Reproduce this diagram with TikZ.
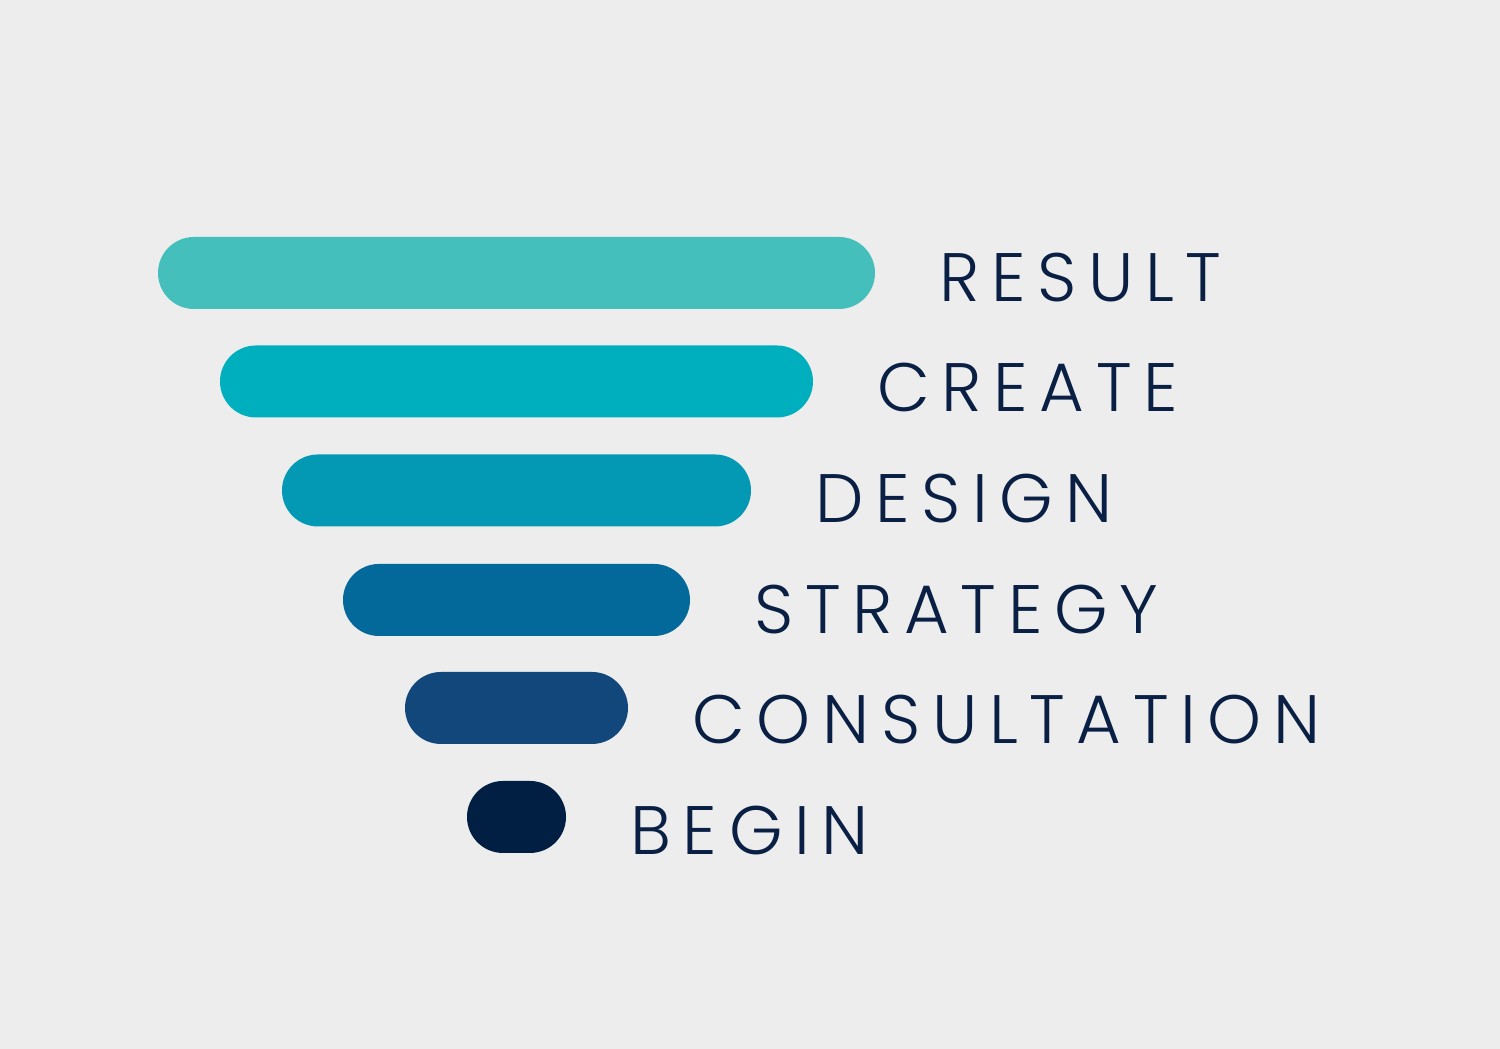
\documentclass[tikz,border=0pt]{standalone}
\usepackage{fontspec}
\setmainfont{Lato}
\newfontfamily\stepfont[LetterSpace=17]{Poppins Light}
\usetikzlibrary{positioning}
\definecolor{bgGray}{HTML}{ECEDEC}
\definecolor{inkNavy}{HTML}{0A1F44}
\definecolor{cResult}{HTML}{44BFBB}
\definecolor{cCreate}{HTML}{00AFBD}
\definecolor{cDesign}{HTML}{0398B3}
\definecolor{cStrategy}{HTML}{03689A}
\definecolor{cConsult}{HTML}{11477B}
\definecolor{cBegin}{HTML}{011E43}
\tikzset{
  bar/.style={rectangle, rounded corners=0.36cm, minimum height=0.72cm, inner sep=0pt},
  steplabel/.style={text=inkNavy, font=\stepfont\fontsize{19.5}{22}\selectfont, inner sep=0pt}
}
\begin{document}
\begin{tikzpicture}
    % Background
    \fill[bgGray] (0,0) rectangle (15,10.49);
    \useasboundingbox (0,0) rectangle (15,10.49);

    % Funnel bars, widest on top
    \node[bar, fill=cResult, minimum width=7.17cm] (result) at (5.165,7.76) {};
    \node[bar, fill=cCreate, minimum width=5.93cm] (create) at (5.165,6.675) {};
    \node[bar, fill=cDesign, minimum width=4.69cm] (design) at (5.165,5.585) {};
    \node[bar, fill=cStrategy, minimum width=3.47cm] (strategy) at (5.165,4.49) {};
    \node[bar, fill=cConsult, minimum width=2.23cm] (consult) at (5.165,3.41) {};
    \node[bar, fill=cBegin, minimum width=0.99cm] (begin) at (5.165,2.32) {};

    % Labels
    \node[steplabel, right=0.63cm of result.east, anchor=base west, yshift=-0.29cm] (resultText) {RESULT};
    \node[steplabel, right=0.63cm of create.east, anchor=base west, yshift=-0.305cm] (createText) {CREATE};
    \node[steplabel, right=0.63cm of design.east, anchor=base west, yshift=-0.325cm] (designText) {DESIGN};
    \node[steplabel, right=0.63cm of strategy.east, anchor=base west, yshift=-0.34cm] (strategyText) {STRATEGY};
    \node[steplabel, right=0.63cm of consult.east, anchor=base west, yshift=-0.355cm] (consultText) {CONSULTATION};
    \node[steplabel, right=0.63cm of begin.east, anchor=base west, yshift=-0.38cm] (beginText) {BEGIN};
\end{tikzpicture}
\end{document}
